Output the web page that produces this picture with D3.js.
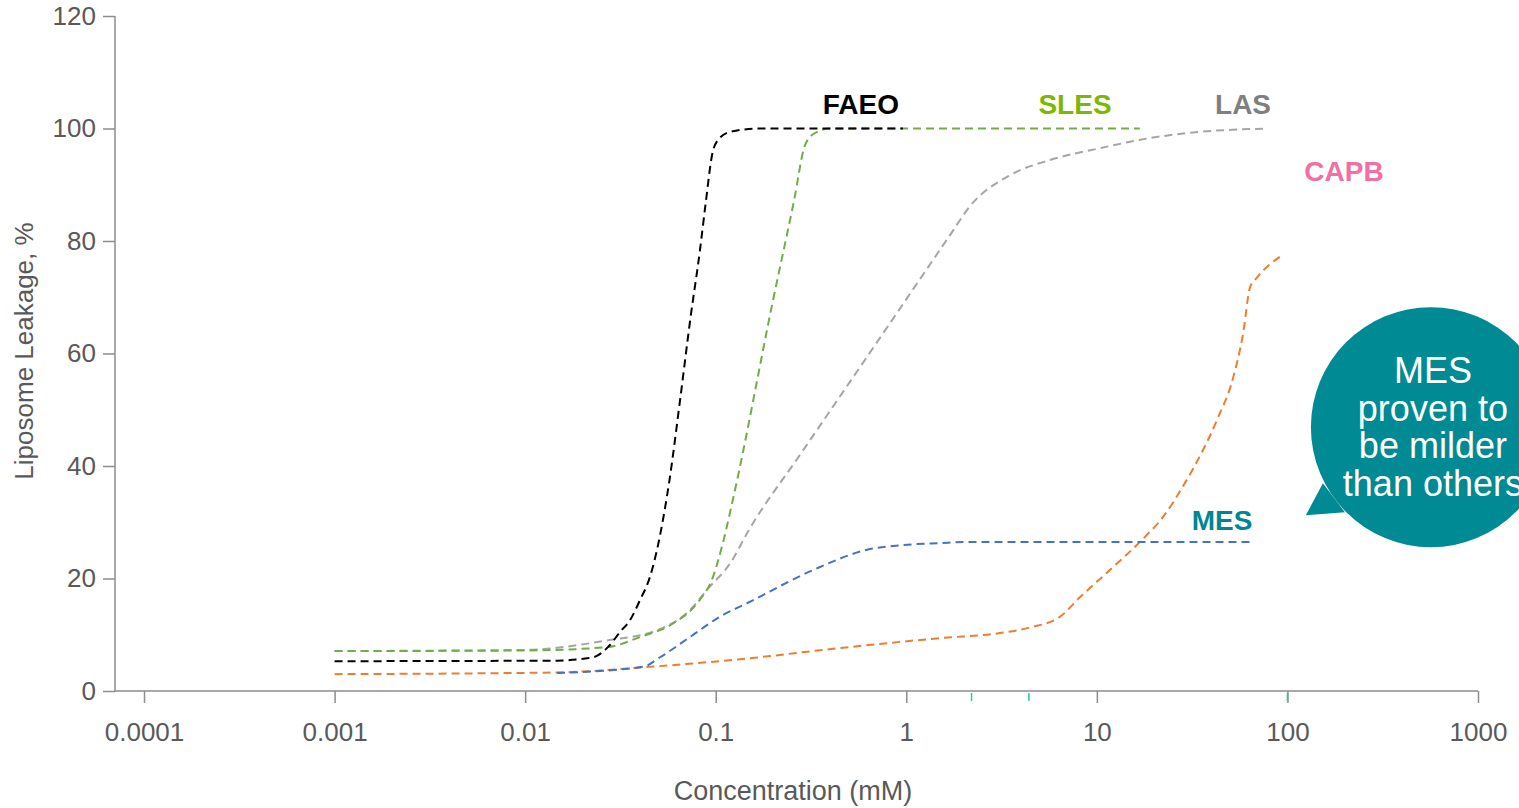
<!DOCTYPE html>
<html>
<head>
<meta charset="utf-8">
<script src="https://cdn.jsdelivr.net/npm/d3@7"></script>
<style>
  body { margin: 0; background: #fff; }
  svg { display: block; font-family: "Liberation Sans", Arial, sans-serif; }
</style>
</head>
<body>
<div id="chart"></div>
<script>
// Datos (concentracion mM, % de fuga)
var faeoX = [0.001, 0.0147, 0.0227, 0.0272, 0.0315, 0.0355, 0.0401, 0.0452, 0.0572, 0.065, 0.0735, 0.0827, 0.089, 0.0957, 0.103, 0.119, 0.171, 0.96];
var faeoY = [5.3, 5.4, 6.0, 7.8, 10.5, 12.6, 16.2, 20.3, 37.5, 51.7, 66, 78.4, 87.3, 95.3, 98, 99.4, 100, 100];

var slesX = [0.001, 0.01, 0.0269, 0.0401, 0.0597, 0.0798, 0.0968, 0.109, 0.123, 0.2, 0.258, 0.294, 0.332, 0.398, 16.8];
var slesY = [7.1, 7.2, 7.8, 9.6, 12, 15.6, 20.3, 26.3, 34, 69.5, 87.3, 97, 99.2, 100, 100];

var lasX = [0.001, 0.01, 0.0269, 0.0492, 0.0733, 0.09, 0.119, 0.151, 0.277, 0.507, 0.927, 1.70, 2.16, 3.50, 5.68, 10.4, 19.0, 34.8, 79.1];
var lasY = [7.1, 7.3, 9.0, 10.8, 14.4, 18, 22.7, 28.9, 42, 55, 68, 81.1, 86.2, 91.7, 94.4, 96.5, 98.3, 99.4, 100];

var mesX = [0.0147, 0.0415, 0.051, 0.0733, 0.105, 0.146, 0.324, 0.622, 1.01, 1.50, 2.16, 65.9];
var mesY = [3.2, 4.3, 6.0, 9.6, 13.2, 15.6, 21.5, 25.1, 26, 26.3, 26.5, 26.5];

var capbX = [0.001, 0.0147, 0.0452, 0.139, 0.413, 1.50, 3.10, 4.46, 6.41, 8.17, 11.7, 16.8, 22.2, 29.0, 42.7, 51.8, 58.5, 63.7, 69.2, 91.4];
var capbY = [3.0, 3.3, 4.3, 5.7, 7.5, 9.4, 10.3, 11.3, 13.2, 16.7, 21.5, 26.5, 30.9, 37, 48.2, 55.6, 63.5, 71.8, 73.5, 77.2];

var xTicks = [0.0001, 0.001, 0.01, 0.1, 1, 10, 100, 1000];
var yTicks = [0, 20, 40, 60, 80, 100, 120];
var markTicks = [2.2, 4.4, 100];

var seriesNames = ["CAPB", "MES", "LAS", "SLES", "FAEO"];
var lineColors = {FAEO: "#000000", SLES: "#70AD47", LAS: "#A5A5A5", MES: "#4472C4", CAPB: "#ED7D31"};
var labelColors = {FAEO: "#000000", SLES: "#7DB800", LAS: "#7F7F7F", MES: "#00878F", CAPB: "#F06FA6"};
// posicion de las etiquetas (concentracion, valor)
var labelPos = {FAEO: [0.578, 102.6], SLES: [7.68, 102.6], LAS: [58.5, 102.6], CAPB: [198, 90.6], MES: [45.4, 28.6]};

var callout = ["MES", "proven to", "be milder", "than others"];

var seriesData = {
  FAEO: faeoX.map(function(d, i) { return [d, faeoY[i]]; }),
  SLES: slesX.map(function(d, i) { return [d, slesY[i]]; }),
  LAS: lasX.map(function(d, i) { return [d, lasY[i]]; }),
  MES: mesX.map(function(d, i) { return [d, mesY[i]]; }),
  CAPB: capbX.map(function(d, i) { return [d, capbY[i]]; })
};

// Dimensiones
var W = 1519, H = 808;
var svg = d3.select("#chart").append("svg")
  .attr("width", W).attr("height", H);

var x = d3.scaleLog().domain([0.0001, 1000]).range([144, 1478]);
var y = d3.scaleLinear().domain([0, 120]).range([691, 16]);

var axisColor = "#8C8C8C", textColor = "#595959";

// Eje Y
var yAxis = svg.append("g")
  .attr("transform", "translate(115,0)")
  .call(d3.axisLeft(y).tickValues(yTicks).tickSize(12).tickSizeOuter(0).tickPadding(7));
yAxis.select(".domain").remove();
yAxis.append("line").attr("x1", 0).attr("x2", 0).attr("y1", y(120)).attr("y2", y(0))
  .attr("stroke", axisColor).attr("stroke-width", 1.5);

// Eje X
var xAxis = svg.append("g")
  .attr("transform", "translate(0," + y(0) + ")")
  .call(d3.axisBottom(x).tickValues(xTicks).tickSize(12).tickSizeOuter(0).tickPadding(20)
    .tickFormat(function(d) { return String(d); }));
xAxis.select(".domain").remove();
xAxis.append("line").attr("x1", 115).attr("x2", x(1000)).attr("y1", 0).attr("y2", 0)
  .attr("stroke", axisColor).attr("stroke-width", 1.5);

svg.selectAll(".tick line").attr("stroke", axisColor).attr("stroke-width", 1.5);
svg.selectAll(".tick text").attr("fill", textColor).style("font-size", "26px");

// marcas turquesa sobre el eje
svg.selectAll("line.mark")
  .data(markTicks)
  .enter().append("line")
  .attr("class", "mark")
  .attr("x1", function(d) { return x(d); })
  .attr("x2", function(d) { return x(d); })
  .attr("y1", y(0) + 2).attr("y2", y(0) + 10)
  .attr("stroke", "#2EC4A4").attr("stroke-width", 1.5);

// Titulos de ejes
svg.append("text")
  .attr("x", 793).attr("y", 800)
  .attr("text-anchor", "middle")
  .attr("fill", textColor)
  .style("font-size", "27px")
  .text("Concentration (mM)");

svg.append("text")
  .attr("transform", "translate(33,351) rotate(-90)")
  .attr("text-anchor", "middle")
  .attr("fill", textColor)
  .style("font-size", "26px")
  .text("Liposome Leakage, %");

// Lineas
var line = d3.line()
  .x(function(d) { return x(d[0]); })
  .y(function(d) { return y(d[1]); })
  .curve(d3.curveMonotoneX);

svg.selectAll("path.serie")
  .data(seriesNames)
  .enter().append("path")
  .attr("class", "serie")
  .attr("d", function(d) { return line(seriesData[d]); })
  .attr("fill", "none")
  .attr("stroke", function(d) { return lineColors[d]; })
  .attr("stroke-width", 2)
  .attr("stroke-dasharray", "8,5");

// Etiquetas
svg.selectAll("text.lbl")
  .data(seriesNames)
  .enter().append("text")
  .attr("class", "lbl")
  .attr("x", function(d) { return x(labelPos[d][0]); })
  .attr("y", function(d) { return y(labelPos[d][1]); })
  .attr("text-anchor", "middle")
  .attr("fill", function(d) { return labelColors[d]; })
  .style("font-size", "28px")
  .style("font-weight", "bold")
  .text(function(d) { return d; });

// Bocadillo
var cx = x(566), cy = y(46.9), r = 120;
var bubble = svg.append("g").attr("transform", "translate(" + cx + "," + cy + ")");
bubble.append("circle").attr("r", r).attr("fill", "#008A93");
bubble.append("path")
  .attr("d", "M-108,56 L-125,88 L-86,85 Z")
  .attr("fill", "#008A93");
bubble.selectAll("text")
  .data(callout)
  .enter().append("text")
  .attr("x", 2)
  .attr("y", function(d, i) { return -44 + i * 37.5; })
  .attr("text-anchor", "middle")
  .attr("fill", "#ffffff")
  .style("font-size", "36px")
  .text(function(d) { return d; });
</script>
</body>
</html>
